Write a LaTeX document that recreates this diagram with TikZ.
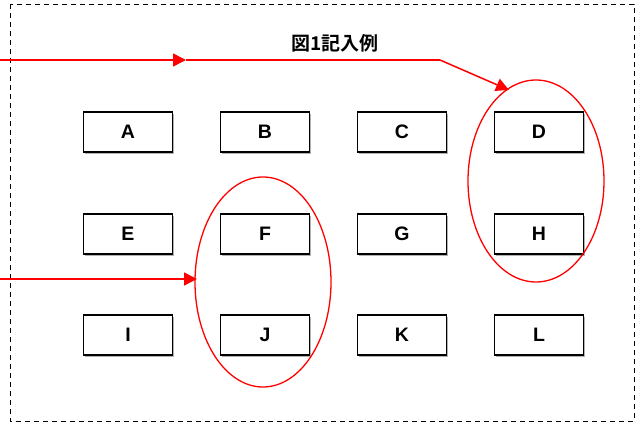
\documentclass[tikz,border=0pt]{standalone}
\usepackage{fontspec}
\setmainfont{Liberation Sans}
\newfontfamily\jpfont{Noto Sans CJK JP}[BoldFont={* Bold}]
\usetikzlibrary{arrows.meta,decorations.markings}
\begin{document}
\begin{tikzpicture}[x=1pt,y=-1pt,
  lbox/.style={draw=black,line width=1.6pt,fill=white,minimum width=89pt,minimum height=40pt,inner sep=0pt,font=\fontsize{19.5}{19.5}\selectfont\bfseries},
  redline/.style={draw=red,line width=1.5pt},
  redtip/.style={-{Triangle[length=13pt,width=13pt]}},
  ring/.style={draw=red,line width=1.3pt}
]
\useasboundingbox (0,0) rectangle (638,423);
\draw[dash pattern=on 5pt off 4pt,line width=0.9pt] (10,4) rectangle (634,421);
\node[font=\jpfont\bfseries\fontsize{19}{19}\selectfont] (title) at (335,43) {図1記入例};
% boxes
\foreach \n/\x/\y in {A/128/132,B/265/132,C/402/132,D/539/132,E/128/234,F/265/234,G/402/234,H/539/234,I/128/335,J/265/335,K/402/335,L/539/335}{
  \fill[gray!60] (\x-44.5+1.5,\y-20+1.5) rectangle (\x+44.5+1.5,\y+20+1.5);
  \node[lbox] (\n) at (\x,\y) {\n};
}
% ellipses
\draw[ring] (263,282) ellipse [x radius=68, y radius=105];
\draw[ring] (536,181) ellipse [x radius=68, y radius=101];
\coordinate (s1) at (0,60);
\coordinate (m1) at (186,60);
\coordinate (b1) at (440,60);
\coordinate (t1) at (509,90);
\coordinate (s2) at (0,279);
\coordinate (t2) at (197,279);
\draw[redline] (m1) -- (b1);
\draw[redline,redtip] (s1) -- (m1);
\draw[redline,redtip] (b1) -- (t1);
\draw[redline,redtip] (s2) -- (t2);
\end{tikzpicture}
\end{document}
